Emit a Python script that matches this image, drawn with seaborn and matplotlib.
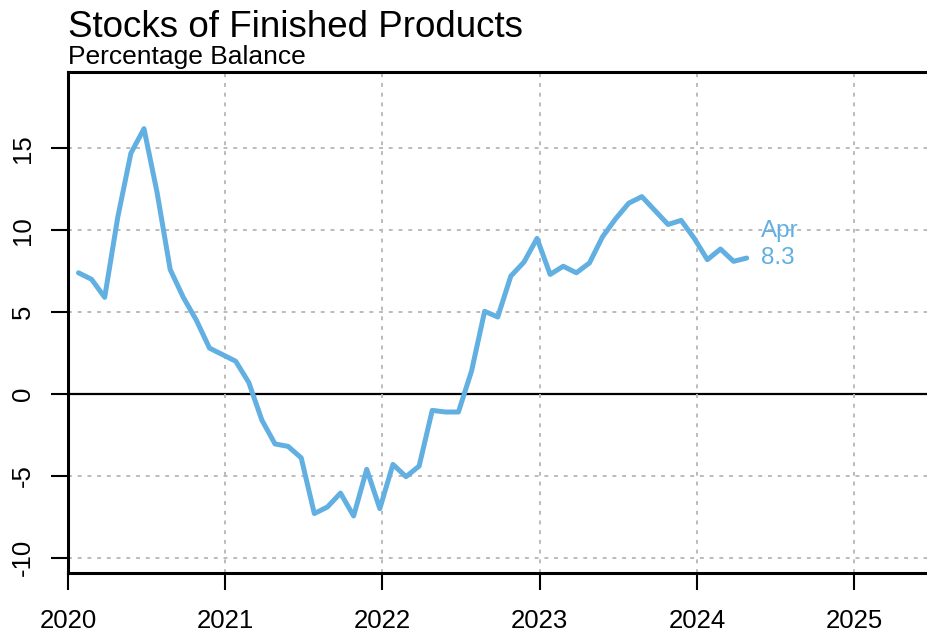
import numpy as np
import pandas as pd
import matplotlib
matplotlib.use("Agg")
import matplotlib.pyplot as plt
import seaborn as sns

# Monthly survey balance, Jan 2020 - Apr 2024
years = [2020] * 12 + [2021] * 12 + [2022] * 12 + [2023] * 12 + [2024] * 4
months = list(range(1, 13)) * 4 + [1, 2, 3, 4]
balance_2020 = [7.4, 7.0, 5.9, 10.8, 14.7, 16.2, 12.3, 7.6, 5.9, 4.5, 2.8, 2.4]
balance_2021 = [2.0, 0.7, -1.6, -3.05, -3.2, -3.9, -7.3, -6.9, -6.05, -7.45, -4.6, -7.0]
balance_2022 = [-4.3, -5.05, -4.4, -1.0, -1.1, -1.1, 1.4, 5.05, 4.7, 7.2, 8.05, 9.5]
balance_2023 = [7.3, 7.8, 7.4, 8.0, 9.6, 10.7, 11.65, 12.05, 11.2, 10.35, 10.6, 9.5]
balance_2024 = [8.2, 8.85, 8.1, 8.3]
balance = balance_2020 + balance_2021 + balance_2022 + balance_2023 + balance_2024

x_ticks = [2020, 2021, 2022, 2023, 2024, 2025]
y_ticks = [-10, -5, 0, 5, 10, 15]
last_label = "Apr"

df = pd.DataFrame({"year": years, "month": months, "balance": balance})
df["t"] = df["year"] + (df["month"] - 0.2) / 12.0

sns.set_style("white")
plt.rcParams["font.family"] = ["Liberation Sans", "DejaVu Sans"]
plt.rcParams["text.color"] = "black"

LINE_BLUE = "#62B0E1"

fig = plt.figure(figsize=(9.28, 6.36), dpi=100)
ax = fig.add_axes([68 / 928, 63 / 636, 1 - 68 / 928, (573 - 72) / 636])

# reference grid: dotted grey, solid zero line
for yv in y_ticks:
    if yv == 0:
        ax.axhline(0, color="black", lw=1.6, zorder=1)
    else:
        ax.axhline(yv, color="#BBBBBB", lw=1.4, ls=(0, (2, 3)), zorder=1)
for xv in x_ticks:
    ax.axvline(xv, color="#BBBBBB", lw=1.4, ls=(0, (2, 3)), zorder=1)

sns.lineplot(data=df, x="t", y="balance", color=LINE_BLUE, lw=3.6, ax=ax,
             zorder=3, solid_capstyle="round", solid_joinstyle="round")

last = df.iloc[-1]
ax.annotate(f"{last_label}\n{last['balance']:.1f}", xy=(last["t"], last["balance"]),
            xytext=(10, 10), textcoords="offset points", ha="left", va="center",
            color=LINE_BLUE, fontsize=17.5, linespacing=1.3)

ax.set_xlim(2020, 2025.47)
ax.set_ylim(-10.93, 19.66)
ax.set_xticks(x_ticks)
ax.set_xticklabels([str(v) for v in x_ticks])
ax.set_yticks(y_ticks)
ax.set_yticklabels([str(v) for v in y_ticks], rotation=90, va="center")
ax.tick_params(axis="x", bottom=True, length=12, width=1.5, pad=14, labelsize=18.5,
               color="black", labelcolor="black")
ax.tick_params(axis="y", left=True, length=12, width=1.5, pad=12, labelsize=18.5,
               color="black", labelcolor="black")
ax.set_xlabel("")
ax.set_ylabel("")

for side in ["left", "bottom", "top"]:
    ax.spines[side].set_visible(True)
    ax.spines[side].set_color("black")
    ax.spines[side].set_linewidth(2.2)
ax.spines["right"].set_visible(False)

fig.text(68 / 928, 1 - 37 / 636, "Stocks of Finished Products", fontsize=26.5,
         ha="left", va="baseline", color="black")
fig.text(68 / 928, 1 - 64 / 636, "Percentage Balance", fontsize=19,
         ha="left", va="baseline", color="black")

fig.savefig("out.png", dpi=100)
